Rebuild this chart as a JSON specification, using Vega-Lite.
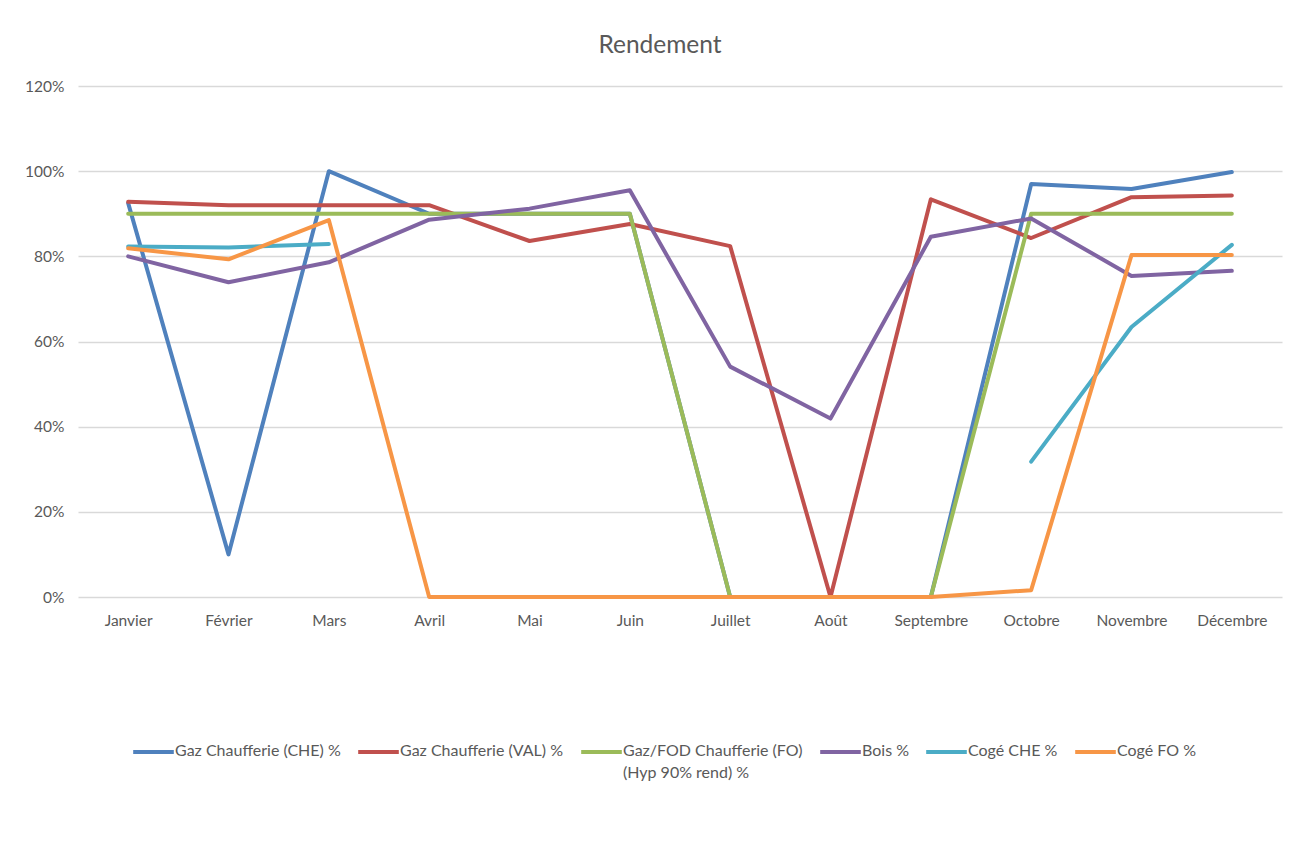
{
  "$schema": "https://vega.github.io/schema/vega-lite/v6.json",
  "autosize": {"type": "none"},
  "width": 1204,
  "height": 511,
  "padding": {"left": 78, "top": 86, "right": 16, "bottom": 253},
  "background": "white",
  "config": {
    "font": "Lato",
    "view": {"stroke": null},
    "axis": {"labelFont": "Lato", "labelColor": "#595959", "labelFontSize": 15.5, "gridColor": "#d9d9d9", "gridWidth": 1.3, "domain": false, "ticks": false, "tickSize": 0},
    "legend": {"labelFont": "Lato", "labelColor": "#595959", "labelFontSize": 16}
  },
  "title": {"text": "Rendement", "font": "Lato", "fontSize": 24.5, "fontWeight": "normal", "color": "#595959", "anchor": "middle", "dx": -20, "offset": 21},
  "datasets": {
    "rows": [
      {"s": "Gaz Chaufferie (CHE) %", "o": 1, "m": "Janvier", "v": 0.925},
      {"s": "Gaz Chaufferie (CHE) %", "o": 1, "m": "Février", "v": 0.10},
      {"s": "Gaz Chaufferie (CHE) %", "o": 1, "m": "Mars", "v": 1.0},
      {"s": "Gaz Chaufferie (CHE) %", "o": 1, "m": "Avril", "v": 0.90},
      {"s": "Gaz Chaufferie (CHE) %", "o": 1, "m": "Mai", "v": 0.90},
      {"s": "Gaz Chaufferie (CHE) %", "o": 1, "m": "Juin", "v": 0.90},
      {"s": "Gaz Chaufferie (CHE) %", "o": 1, "m": "Juillet", "v": 0.0},
      {"s": "Gaz Chaufferie (CHE) %", "o": 1, "m": "Août", "v": 0.0},
      {"s": "Gaz Chaufferie (CHE) %", "o": 1, "m": "Septembre", "v": 0.0},
      {"s": "Gaz Chaufferie (CHE) %", "o": 1, "m": "Octobre", "v": 0.97},
      {"s": "Gaz Chaufferie (CHE) %", "o": 1, "m": "Novembre", "v": 0.958},
      {"s": "Gaz Chaufferie (CHE) %", "o": 1, "m": "Décembre", "v": 0.998},
      {"s": "Gaz Chaufferie (VAL) %", "o": 2, "m": "Janvier", "v": 0.928},
      {"s": "Gaz Chaufferie (VAL) %", "o": 2, "m": "Février", "v": 0.92},
      {"s": "Gaz Chaufferie (VAL) %", "o": 2, "m": "Mars", "v": 0.92},
      {"s": "Gaz Chaufferie (VAL) %", "o": 2, "m": "Avril", "v": 0.92},
      {"s": "Gaz Chaufferie (VAL) %", "o": 2, "m": "Mai", "v": 0.836},
      {"s": "Gaz Chaufferie (VAL) %", "o": 2, "m": "Juin", "v": 0.876},
      {"s": "Gaz Chaufferie (VAL) %", "o": 2, "m": "Juillet", "v": 0.824},
      {"s": "Gaz Chaufferie (VAL) %", "o": 2, "m": "Août", "v": 0.0},
      {"s": "Gaz Chaufferie (VAL) %", "o": 2, "m": "Septembre", "v": 0.934},
      {"s": "Gaz Chaufferie (VAL) %", "o": 2, "m": "Octobre", "v": 0.843},
      {"s": "Gaz Chaufferie (VAL) %", "o": 2, "m": "Novembre", "v": 0.939},
      {"s": "Gaz Chaufferie (VAL) %", "o": 2, "m": "Décembre", "v": 0.943},
      {"s": "Gaz/FOD Chaufferie (FO) (Hyp 90% rend) %", "o": 3, "m": "Janvier", "v": 0.90},
      {"s": "Gaz/FOD Chaufferie (FO) (Hyp 90% rend) %", "o": 3, "m": "Février", "v": 0.90},
      {"s": "Gaz/FOD Chaufferie (FO) (Hyp 90% rend) %", "o": 3, "m": "Mars", "v": 0.90},
      {"s": "Gaz/FOD Chaufferie (FO) (Hyp 90% rend) %", "o": 3, "m": "Avril", "v": 0.90},
      {"s": "Gaz/FOD Chaufferie (FO) (Hyp 90% rend) %", "o": 3, "m": "Mai", "v": 0.90},
      {"s": "Gaz/FOD Chaufferie (FO) (Hyp 90% rend) %", "o": 3, "m": "Juin", "v": 0.90},
      {"s": "Gaz/FOD Chaufferie (FO) (Hyp 90% rend) %", "o": 3, "m": "Juillet", "v": 0.0},
      {"s": "Gaz/FOD Chaufferie (FO) (Hyp 90% rend) %", "o": 3, "m": "Août", "v": 0.0},
      {"s": "Gaz/FOD Chaufferie (FO) (Hyp 90% rend) %", "o": 3, "m": "Septembre", "v": 0.0},
      {"s": "Gaz/FOD Chaufferie (FO) (Hyp 90% rend) %", "o": 3, "m": "Octobre", "v": 0.90},
      {"s": "Gaz/FOD Chaufferie (FO) (Hyp 90% rend) %", "o": 3, "m": "Novembre", "v": 0.90},
      {"s": "Gaz/FOD Chaufferie (FO) (Hyp 90% rend) %", "o": 3, "m": "Décembre", "v": 0.90},
      {"s": "Bois %", "o": 4, "m": "Janvier", "v": 0.80},
      {"s": "Bois %", "o": 4, "m": "Février", "v": 0.739},
      {"s": "Bois %", "o": 4, "m": "Mars", "v": 0.786},
      {"s": "Bois %", "o": 4, "m": "Avril", "v": 0.886},
      {"s": "Bois %", "o": 4, "m": "Mai", "v": 0.912},
      {"s": "Bois %", "o": 4, "m": "Juin", "v": 0.955},
      {"s": "Bois %", "o": 4, "m": "Juillet", "v": 0.541},
      {"s": "Bois %", "o": 4, "m": "Août", "v": 0.419},
      {"s": "Bois %", "o": 4, "m": "Septembre", "v": 0.846},
      {"s": "Bois %", "o": 4, "m": "Octobre", "v": 0.889},
      {"s": "Bois %", "o": 4, "m": "Novembre", "v": 0.754},
      {"s": "Bois %", "o": 4, "m": "Décembre", "v": 0.766},
      {"s": "Cogé CHE %", "o": 5, "m": "Janvier", "v": 0.823},
      {"s": "Cogé CHE %", "o": 5, "m": "Février", "v": 0.821},
      {"s": "Cogé CHE %", "o": 5, "m": "Mars", "v": 0.829},
      {"s": "Cogé CHE %", "o": 5, "m": "Avril", "v": null},
      {"s": "Cogé CHE %", "o": 5, "m": "Mai", "v": null},
      {"s": "Cogé CHE %", "o": 5, "m": "Juin", "v": null},
      {"s": "Cogé CHE %", "o": 5, "m": "Juillet", "v": null},
      {"s": "Cogé CHE %", "o": 5, "m": "Août", "v": null},
      {"s": "Cogé CHE %", "o": 5, "m": "Septembre", "v": null},
      {"s": "Cogé CHE %", "o": 5, "m": "Octobre", "v": 0.318},
      {"s": "Cogé CHE %", "o": 5, "m": "Novembre", "v": 0.634},
      {"s": "Cogé CHE %", "o": 5, "m": "Décembre", "v": 0.827},
      {"s": "Cogé FO %", "o": 6, "m": "Janvier", "v": 0.819},
      {"s": "Cogé FO %", "o": 6, "m": "Février", "v": 0.793},
      {"s": "Cogé FO %", "o": 6, "m": "Mars", "v": 0.885},
      {"s": "Cogé FO %", "o": 6, "m": "Avril", "v": 0.0},
      {"s": "Cogé FO %", "o": 6, "m": "Mai", "v": 0.0},
      {"s": "Cogé FO %", "o": 6, "m": "Juin", "v": 0.0},
      {"s": "Cogé FO %", "o": 6, "m": "Juillet", "v": 0.0},
      {"s": "Cogé FO %", "o": 6, "m": "Août", "v": 0.0},
      {"s": "Cogé FO %", "o": 6, "m": "Septembre", "v": 0.0},
      {"s": "Cogé FO %", "o": 6, "m": "Octobre", "v": 0.016},
      {"s": "Cogé FO %", "o": 6, "m": "Novembre", "v": 0.803},
      {"s": "Cogé FO %", "o": 6, "m": "Décembre", "v": 0.803}
    ]
  },
  "data": {"name": "rows"},
  "mark": {"type": "line", "strokeWidth": 4, "strokeCap": "round", "strokeJoin": "round", "invalid": "break-paths-show-domains"},
  "encoding": {
    "x": {
      "field": "m", "type": "ordinal",
      "sort": ["Janvier", "Février", "Mars", "Avril", "Mai", "Juin", "Juillet", "Août", "Septembre", "Octobre", "Novembre", "Décembre"],
      "scale": {"type": "point", "padding": 0.5},
      "axis": {"title": null, "labelAngle": 0, "labelPadding": 16, "grid": false}
    },
    "y": {
      "field": "v", "type": "quantitative",
      "scale": {"domain": [0, 1.2]},
      "axis": {"title": null, "values": [0, 0.2, 0.4, 0.6, 0.8, 1.0, 1.2], "format": ".0%", "labelPadding": 14, "grid": true}
    },
    "color": {
      "field": "s", "type": "nominal",
      "scale": {
        "domain": ["Gaz Chaufferie (CHE) %", "Gaz Chaufferie (VAL) %", "Gaz/FOD Chaufferie (FO) (Hyp 90% rend) %", "Bois %", "Cogé CHE %", "Cogé FO %"],
        "range": ["#4F81BD", "#C0504D", "#9BBB59", "#8064A2", "#4BACC6", "#F79646"]
      },
      "legend": {
        "title": null, "orient": "none", "legendX": 53, "legendY": 657,
        "direction": "horizontal", "columns": 6, "gridAlign": "each",
        "symbolType": "stroke", "symbolSize": 1650, "symbolStrokeWidth": 4,
        "labelOffset": -1, "columnPadding": 9, "labelLimit": 400,
        "labelExpr": "datum.label == 'Gaz/FOD Chaufferie (FO) (Hyp 90% rend) %' ? ['Gaz/FOD Chaufferie (FO)', '(Hyp 90% rend) %'] : [datum.label, ' ']",
        "encode": {
          "symbols": {"update": {"y": {"value": 9}}},
          "labels": {"update": {"y": {"value": 0}, "baseline": {"value": "top"}, "lineHeight": {"value": 22}}}
        }
      }
    },
    "order": {"field": "o"},
    "detail": {"field": "o"}
  }
}
